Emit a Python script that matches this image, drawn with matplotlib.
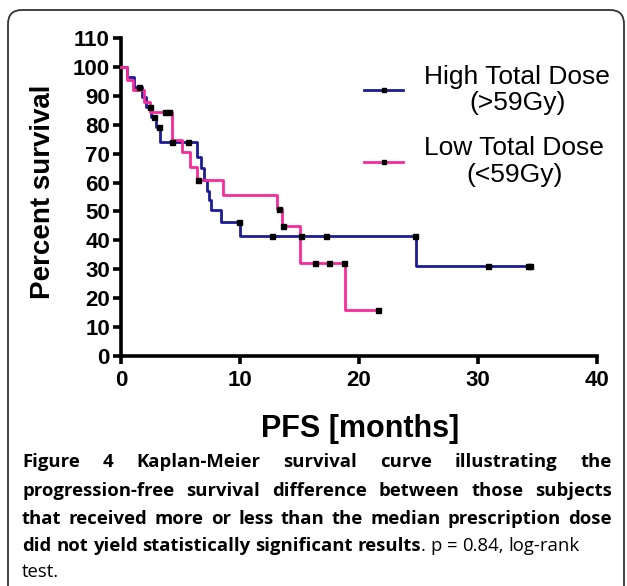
import matplotlib
matplotlib.use('Agg')
import matplotlib.pyplot as plt
import matplotlib.transforms as mtransforms
from matplotlib.patches import FancyBboxPatch
from matplotlib.lines import Line2D
import numpy as np

# Kaplan-Meier steps (months, percent)
high_t = [0, 0.5, 1.1, 1.8, 2.1, 2.5, 2.9, 3.3, 6.4, 6.7, 7.0, 7.2, 7.4, 7.6, 8.4, 10.0, 24.8, 34.4]
high_s = [100, 96.6, 93.1, 89.7, 86.2, 82.8, 79.3, 74.1, 69.0, 65.0, 61.0, 57.0, 54.0, 50.5, 46.5, 41.4, 31.0, 31.0]
high_cens = [1.5, 2.4, 2.8, 3.2, 4.3, 5.6, 9.9, 12.7, 15.1, 17.2, 24.7, 30.8, 34.2, 34.4]

low_t = [0, 0.5, 1.0, 1.9, 2.4, 4.3, 5.1, 5.8, 6.4, 8.6, 13.1, 13.5, 15.0, 18.8, 21.6]
low_s = [100, 95.5, 91.9, 88.0, 84.5, 74.7, 70.7, 65.5, 61.0, 55.7, 50.7, 45.0, 32.0, 16.0, 16.0]
low_cens = [3.7, 4.0, 6.45, 13.3, 13.6, 16.3, 17.5, 18.7, 21.6]

labels = ['High Total Dose\n(>59Gy)', 'Low Total Dose\n(<59Gy)']
colors = ['#1c1c96', '#f72a9a']
xticks = [0, 10, 20, 30, 40]
yticks = list(range(0, 111, 10))

W, H = 627, 586
fig = plt.figure(figsize=(W / 100, H / 100), dpi=100)
ident = mtransforms.IdentityTransform()

# rounded frame around figure + caption
box = FancyBboxPatch((8, -30), 616, H - 10 + 30, boxstyle='round,pad=0,rounding_size=14',
                     transform=ident, fill=False, edgecolor='#333333', linewidth=1.3)
fig.add_artist(box)

ax = fig.add_axes([121 / W, (H - 356) / H, (597 - 121) / W, (356 - 38) / H])


def step_at(ts, ss, x):
    i = np.searchsorted(ts, x, side='right') - 1
    return ss[i]


for ts, ss, cens, c in [(high_t, high_s, high_cens, colors[0]), (low_t, low_s, low_cens, colors[1])]:
    ax.plot(ts, ss, drawstyle='steps-post', color=c, lw=2.0, clip_on=False, zorder=3)
    cy = [step_at(np.array(ts), ss, x) for x in cens]
    ax.plot(cens, cy, ls='none', marker='s', ms=3.6, color='black', zorder=4, clip_on=False)

ax.set_xlim(0, 40)
ax.set_ylim(0, 110)
ax.set_xticks(xticks)
ax.set_yticks(yticks)
for s in ['top', 'right']:
    ax.spines[s].set_visible(False)
for s in ['left', 'bottom']:
    ax.spines[s].set_linewidth(2.6)
ax.tick_params(length=6, width=2.6, direction='out', labelsize=16, pad=2)
ax.tick_params(axis='x', pad=4)
for t in ax.get_xticklabels() + ax.get_yticklabels():
    t.set_fontweight('bold')
    t.set_family('Liberation Sans')

ax.set_xlabel('PFS [months]', fontsize=22, fontweight='bold', family='Liberation Sans', va='center')
ax.set_ylabel('Percent survival', fontsize=20, fontweight='bold', family='Liberation Sans', va='center')
ax.xaxis.set_label_coords(0.502, -0.228)
ax.yaxis.set_label_coords(-0.164, 0.516)

handles = [Line2D([], [], color=c, lw=2.0, marker='s', ms=3.0, mfc='black', mec='black') for c in colors]
leg = ax.legend(handles, labels, loc='upper left', bbox_to_anchor=(364 / W, (H - 65) / H),
                bbox_transform=fig.transFigure, frameon=False, borderpad=0, borderaxespad=0,
                handlelength=1.48, handletextpad=0.8, labelspacing=0.8, numpoints=1,
                prop={'family': 'Liberation Sans', 'size': 19})
for t in leg.get_texts():
    t.set_multialignment('center')
    t.set_linespacing(1.12)

# caption, justified like the journal layout
cap_lines = [
    ([[('Figure', 'bold')], [('4', 'bold')], [('Kaplan-Meier', 'bold')], [('survival', 'bold')],
      [('curve', 'bold')], [('illustrating', 'bold')], [('the', 'bold')]], 467, True),
    ([[('progression-free', 'bold')], [('survival', 'bold')], [('difference', 'bold')], [('between', 'bold')],
      [('those', 'bold')], [('subjects', 'bold')]], 496, True),
    ([[('that', 'bold')], [('received', 'bold')], [('more', 'bold')], [('or', 'bold')], [('less', 'bold')],
      [('than', 'bold')], [('the', 'bold')], [('median', 'bold')], [('prescription', 'bold')],
      [('dose', 'bold')]], 524, True),
    ([[('did', 'bold')], [('not', 'bold')], [('yield', 'bold')], [('statistically', 'bold')],
      [('significant', 'bold')], [('results', 'bold'), ('.', 'normal')], [('p', 'normal')], [('=', 'normal')],
      [('0.84,', 'normal')], [('log-rank', 'normal')]], 551, False),
    ([[('test.', 'normal')]], 577, False),
]
x0, x1 = 22, 612
cap_size = 13.3
renderer = fig.canvas.get_renderer()
for words, ybase, justify in cap_lines:
    items = []
    widths = []
    for w in words:
        pieces = []
        wsum = 0
        for txt, wt in w:
            t = fig.text(0, H - ybase, txt, transform=ident, fontsize=cap_size, fontweight=wt,
                         family='Open Sans', va='baseline', ha='left', color='black')
            bw = t.get_window_extent(renderer).width
            pieces.append((t, bw))
            wsum += bw
        items.append(pieces)
        widths.append(wsum)
    if justify and len(words) > 1:
        gap = (x1 - x0 - sum(widths)) / (len(words) - 1)
    else:
        gap = cap_size * 100 / 72 * 0.26
    x = x0
    for pieces, wsum in zip(items, widths):
        xx = x
        for t, bw in pieces:
            t.set_x(xx)
            xx += bw
        x += wsum + gap

fig.savefig('out.png', dpi=100)
